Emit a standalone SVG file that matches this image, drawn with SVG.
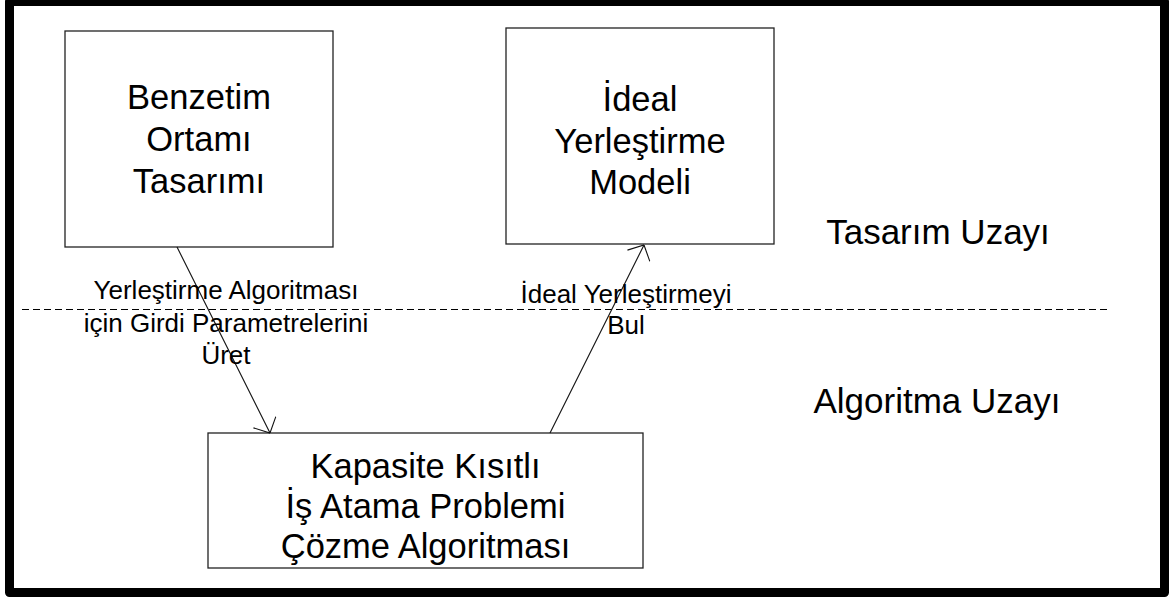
<svg xmlns="http://www.w3.org/2000/svg" width="1171" height="598" viewBox="0 0 1171 598">
  <style>
    .box { fill: #ffffff; stroke: #222222; stroke-width: 1.3; }
    .big { font-family: "Liberation Sans", Arial, sans-serif; font-size: 34.5px; fill: #000000; text-anchor: middle; }
    .side { font-family: "Liberation Sans", Arial, sans-serif; font-size: 35px; fill: #000000; text-anchor: middle; }
    .lbl { font-family: "Liberation Sans", Arial, sans-serif; font-size: 26px; fill: #000000; text-anchor: middle; }
    .edge { fill: none; stroke: #111111; stroke-width: 1.1; }
  </style>
  <defs>
    <marker id="openArrow" markerUnits="userSpaceOnUse" viewBox="0 0 13 26" refX="12.5" refY="13" markerWidth="13" markerHeight="26" orient="auto">
      <path d="M0.5,0.5 L12.5,13 L0.5,25.5" fill="none" stroke="#111111" stroke-width="1.1"/>
    </marker>
  </defs>

  <rect x="0" y="0" width="1171" height="598" fill="#ffffff"/>

  <!-- outer frame -->
  <rect x="9.5" y="1.5" width="1155" height="591" fill="none" stroke="#000000" stroke-width="9" stroke-linejoin="round"/>

  <!-- boundary between design space and algorithm space -->
  <line x1="22" y1="309.5" x2="1110" y2="309.5" stroke="#000000" stroke-width="1" stroke-dasharray="7,4"/>

  <text class="side" x="938" y="244">Tasarım Uzayı</text>
  <text class="side" x="937" y="413">Algoritma Uzayı</text>

  <g id="node-benzetim">
    <rect class="box" x="65" y="31" width="268" height="216"/>
    <text class="big" x="199" y="109">Benzetim</text>
    <text class="big" x="199" y="151">Ortamı</text>
    <text class="big" x="199" y="193">Tasarımı</text>
  </g>

  <g id="node-ideal">
    <rect class="box" x="506" y="28" width="268" height="216"/>
    <text class="big" x="640" y="111">İdeal</text>
    <text class="big" x="640" y="153">Yerleştirme</text>
    <text class="big" x="640" y="194">Modeli</text>
  </g>

  <g id="node-kapasite">
    <rect class="box" x="208" y="433" width="435" height="135"/>
    <text class="big" x="425.5" y="478">Kapasite Kısıtlı</text>
    <text class="big" x="425.5" y="518">İş Atama Problemi</text>
    <text class="big" x="425.5" y="558">Çözme Algoritması</text>
  </g>

  <g id="connectors">
    <line class="edge" x1="177" y1="247" x2="270" y2="433" marker-end="url(#openArrow)"/>
    <line class="edge" x1="550" y1="433" x2="644" y2="245" marker-end="url(#openArrow)"/>
    <text class="lbl" x="226" y="299">Yerleştirme Algoritması</text>
    <text class="lbl" x="226" y="332">için Girdi Parametrelerini</text>
    <text class="lbl" x="226" y="364">Üret</text>
    <text class="lbl" x="626" y="303">İdeal Yerleştirmeyi</text>
    <text class="lbl" x="626" y="334">Bul</text>
  </g>
</svg>
